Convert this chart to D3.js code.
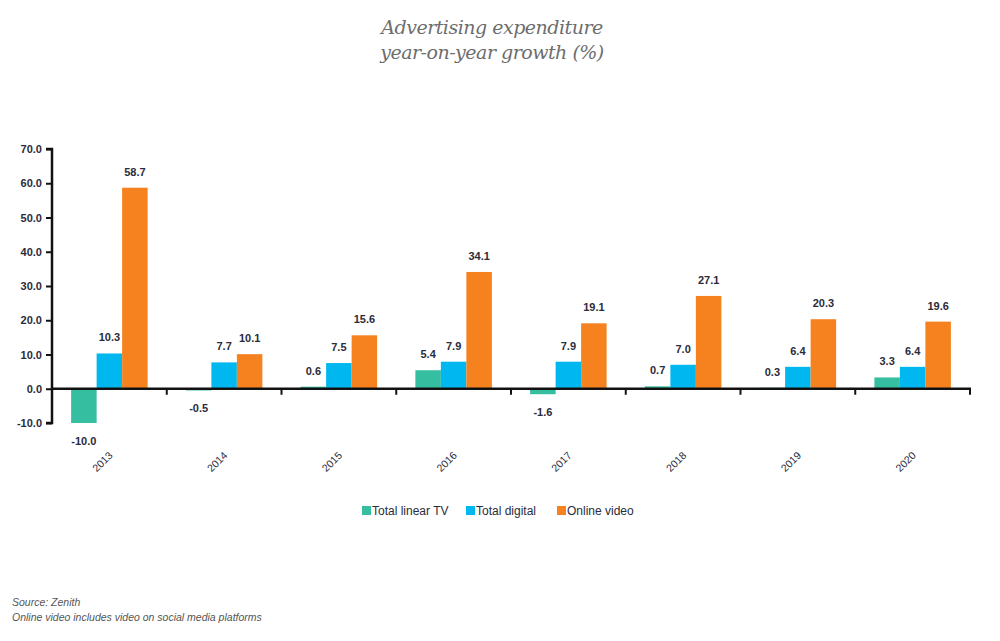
<!DOCTYPE html>
<html><head><meta charset="utf-8">
<script src="https://cdn.jsdelivr.net/npm/d3@7"></script>
<style>body{margin:0;background:#fff;} svg{display:block;}</style>
</head><body>
<script>
const years = ["2013","2014","2015","2016","2017","2018","2019","2020"];
const seriesNames = ["Total linear TV","Total digital","Online video"];
const linearTV = [-10.0,-0.5,0.6,5.4,-1.6,0.7,0.3,3.3];
const totalDigital = [10.3,7.7,7.5,7.9,7.9,7.0,6.4,6.4];
const onlineVideo = [58.7,10.1,15.6,34.1,19.1,27.1,20.3,19.6];
const yTicks = [-10,0,10,20,30,40,50,60,70];
const colors = ["#35BEA0","#00B8EF","#F5821F"];
const seriesValues = [linearTV,totalDigital,onlineVideo];

const W=1000,H=641;
const svg=d3.select("body").append("svg").attr("width",W).attr("height",H);
const x0=d3.scaleBand().domain(years).range([52,970]).paddingInner(0).paddingOuter(0);
const x1=d3.scaleBand().domain(seriesNames).range([0,x0.bandwidth()]).paddingOuter(0.75).paddingInner(0);
const y=d3.scaleLinear().domain([-10,70]).range([423,149]);

// title
svg.append("text").attr("x",492).attr("y",34).attr("text-anchor","middle")
  .attr("font-family","DejaVu Serif").attr("font-style","italic").attr("font-weight","300")
  .attr("font-size",19).attr("fill","#6d6d6d").attr("letter-spacing","-0.5").text("Advertising expenditure");
svg.append("text").attr("x",492).attr("y",59).attr("text-anchor","middle")
  .attr("font-family","DejaVu Serif").attr("font-style","italic").attr("font-weight","300")
  .attr("font-size",19).attr("fill","#6d6d6d").attr("letter-spacing","-0.5").text("year-on-year growth (%)");

// bars
const g=svg.append("g");
years.forEach((yr,i)=>{
  seriesNames.forEach((s,j)=>{
    const v=seriesValues[j][i];
    g.append("rect").attr("x",x0(yr)+x1(s)).attr("width",x1.bandwidth())
      .attr("y",y(Math.max(0,v))).attr("height",Math.abs(y(v)-y(0)))
      .attr("fill",colors[j]);
    const cx=x0(yr)+x1(s)+x1.bandwidth()/2;
    g.append("text").attr("x",cx)
      .attr("y", v>=0 ? y(v)-12 : y(v)+22)
      .attr("text-anchor","middle").attr("font-family","Liberation Sans, Arial").attr("font-weight","bold")
      .attr("font-size",11).attr("fill","#2b2b3a").text(v.toFixed(1));
  });
});

// y axis
const yAxis=d3.axisLeft(y).tickValues(yTicks).tickFormat(d=>d.toFixed(1)).tickSize(6);
const ya=svg.append("g").attr("transform","translate(52,0)").call(yAxis);
ya.select(".domain").attr("stroke","#111").attr("stroke-width",2.5).attr("d","M-6,149H0V423H-6");
ya.selectAll(".tick line").attr("stroke","#111").attr("stroke-width",2);
ya.selectAll(".tick text").attr("font-family","Liberation Sans, Arial").attr("font-weight","bold")
  .attr("font-size",11).attr("fill","#2b2b3a").attr("x",-10);

// x axis at 0
const xa=svg.append("g").attr("transform",`translate(0,${y(0)})`);
xa.append("line").attr("x1",52).attr("x2",971).attr("stroke","#111").attr("stroke-width",2.5);
const bounds=years.map(d=>x0(d)).concat([x0.range()[1]]);
bounds.forEach(b=>{ xa.append("line").attr("x1",b).attr("x2",b).attr("y1",0).attr("y2",6).attr("stroke","#111").attr("stroke-width",2);});
years.forEach(yr=>{
  const cx=x0(yr)+x0.bandwidth()/2;
  svg.append("text").attr("transform",`translate(${cx+4},${456}) rotate(-45)`)
    .attr("text-anchor","end").attr("font-family","Liberation Sans, Arial").attr("font-size",10.5)
    .attr("fill","#2b2b3a").text(yr);
});

// legend
const leg=[{x:362,t:seriesNames[0]},{x:466,t:seriesNames[1]},{x:557,t:seriesNames[2]}];
leg.forEach((l,i)=>{
  svg.append("rect").attr("x",l.x).attr("y",506).attr("width",9).attr("height",9).attr("fill",colors[i]);
  svg.append("text").attr("x",l.x+10).attr("y",515).attr("font-family","Liberation Sans, Arial")
    .attr("font-size",12).attr("fill","#2b2b3a").text(l.t);
});

// footnote
svg.append("text").attr("x",12).attr("y",606).attr("font-family","Liberation Sans, Arial").attr("font-style","italic")
  .attr("font-size",10.5).attr("fill","#555").text("Source: Zenith");
svg.append("text").attr("x",12).attr("y",621).attr("font-family","Liberation Sans, Arial").attr("font-style","italic")
  .attr("font-size",10.5).attr("fill","#555").text("Online video includes video on social media platforms");
</script>
</body></html>
